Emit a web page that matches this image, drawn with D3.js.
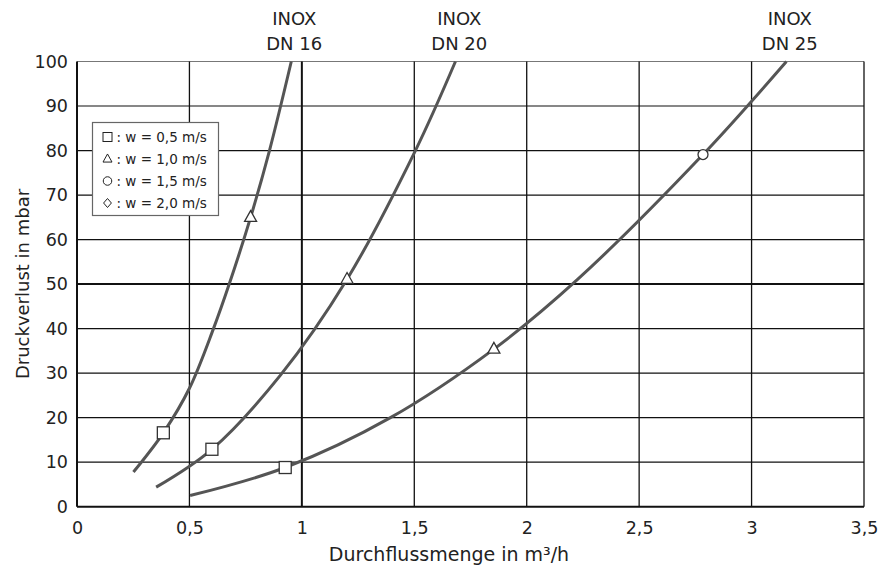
<!DOCTYPE html>
<html><head><meta charset="utf-8">
<script src="https://cdn.jsdelivr.net/npm/d3@7"></script>
<style>
body{margin:0;background:#fff;}
text{font-family:"DejaVu Sans",sans-serif;fill:#222;}
</style></head>
<body><svg id="c" width="890" height="572"></svg>
<script>
// ---- data ----
const xTicks = [0, 0.5, 1, 1.5, 2, 2.5, 3, 3.5];
const xTickLabels = ["0", "0,5", "1", "1,5", "2", "2,5", "3", "3,5"];
const yTicks = [0, 10, 20, 30, 40, 50, 60, 70, 80, 90, 100];
const seriesNames = ["INOX|DN 16", "INOX|DN 20", "INOX|DN 25"];
const labelX = [0.966, 1.70, 3.17];
// curve points [flow m³/h, pressure mbar]
const dn16 = [[0.251, 7.8], [0.384, 16.6], [0.5, 26.6], [0.607, 40], [0.677, 50], [0.772, 65], [0.856, 80], [0.953, 100]];
const dn20 = [[0.352, 4.4], [0.6, 12.9], [0.904, 29.5], [1.201, 51.1], [1.505, 80], [1.683, 100]];
const dn25 = [[0.503, 2.5], [0.926, 8.8], [1.394, 20], [1.854, 35.4], [2.225, 51], [2.784, 79.1], [3.155, 100]];
const curves = [dn16, dn20, dn25];
// markers: [flow, pressure, type]
const markers = [
  [0.384, 16.6, "square"], [0.772, 65, "triangle"],
  [0.600, 12.9, "square"], [1.201, 51.1, "triangle"],
  [0.926, 8.8, "square"], [1.854, 35.4, "triangle"], [2.784, 79.1, "circle"]
];
const legendItems = [["square", ": w = 0,5 m/s"], ["triangle", ": w = 1,0 m/s"], ["circle", ": w = 1,5 m/s"], ["diamond", ": w = 2,0 m/s"]];

// ---- drawing ----
const svg = d3.select("#c");
const L = 77, R = 864, T = 61.5, B = 506.7;
const x = d3.scaleLinear().domain([0, 3.5]).range([L, R]);
const y = d3.scaleLinear().domain([0, 100]).range([B, T]);

// grid
const g = svg.append("g");
g.selectAll("line.h").data(yTicks.slice(1)).join("line")
  .attr("x1", L).attr("x2", R).attr("y1", d => y(d)).attr("y2", d => y(d))
  .attr("stroke", d => d === 100 ? "#777" : "#111")
  .attr("stroke-width", d => d === 50 ? 2 : 1.2);
g.selectAll("line.v").data(xTicks.slice(1)).join("line")
  .attr("x1", d => x(d)).attr("x2", d => x(d)).attr("y1", T).attr("y2", B)
  .attr("stroke", "#111")
  .attr("stroke-width", d => d === 1 ? 2 : 1.3);
svg.append("line").attr("x1", L).attr("x2", L).attr("y1", T).attr("y2", B).attr("stroke", "#111").attr("stroke-width", 2);
svg.append("line").attr("x1", L).attr("x2", R).attr("y1", B).attr("y2", B).attr("stroke", "#111").attr("stroke-width", 2);

// tick labels
const xAxis = d3.axisBottom(x).tickValues(xTicks).tickFormat((d, i) => xTickLabels[i]).tickSize(0).tickPadding(15);
const xa = svg.append("g").attr("transform", `translate(0,${B})`).call(xAxis);
xa.select(".domain").remove();
xa.selectAll("text").style("font-size", "17.5px").style("font-family", "'DejaVu Sans',sans-serif").attr("fill", "#222");
const yAxis = d3.axisLeft(y).tickValues(yTicks).tickSize(0).tickPadding(9);
const ya = svg.append("g").attr("transform", `translate(${L},0)`).call(yAxis);
ya.select(".domain").remove();
ya.selectAll("text").style("font-size", "17.5px").style("font-family", "'DejaVu Sans',sans-serif").attr("fill", "#222");

// axis titles
svg.append("text").attr("x", 449).attr("y", 561).attr("text-anchor", "middle").style("font-size", "19px").text("Durchflussmenge in m³/h");
svg.append("text").attr("transform", `translate(23,284) rotate(-90)`).attr("text-anchor", "middle").attr("dy", "0.35em").style("font-size", "18px").text("Druckverlust in mbar");

// curves
const line = d3.line().x(d => x(d[0])).y(d => y(d[1])).curve(d3.curveCatmullRom.alpha(0.5));
svg.selectAll("path.curve").data(curves).join("path")
  .attr("d", line).attr("fill", "none").attr("stroke", "#555").attr("stroke-width", 3);

// series labels
seriesNames.forEach((s, i) => {
  const parts = s.split("|");
  const t = svg.append("text").attr("text-anchor", "middle").style("font-size", "18px");
  t.append("tspan").attr("x", x(labelX[i])).attr("y", 25).text(parts[0]);
  t.append("tspan").attr("x", x(labelX[i])).attr("y", 50).text(parts[1]);
});

// marker drawing
function drawSym(sel, type, cx, cy, s) {
  if (type === "square") {
    sel.append("rect").attr("x", cx - s / 2).attr("y", cy - s / 2).attr("width", s).attr("height", s);
  } else if (type === "triangle") {
    const h = s * 0.9;
    sel.append("path").attr("d", `M${cx},${cy - h * 0.62}L${cx + s / 2},${cy + h * 0.38}L${cx - s / 2},${cy + h * 0.38}Z`);
  } else if (type === "circle") {
    sel.append("circle").attr("cx", cx).attr("cy", cy).attr("r", s / 2);
  } else {
    sel.append("path").attr("d", `M${cx},${cy - s / 2}L${cx + s / 2.3},${cy}L${cx},${cy + s / 2}L${cx - s / 2.3},${cy}Z`);
  }
}
const mg = svg.append("g").attr("fill", "#fff").attr("stroke", "#333").attr("stroke-width", 1.3);
markers.forEach(m => drawSym(mg, m[2], x(m[0]), y(m[1]), m[2] === "circle" ? 10 : 12));

// legend
const lg = svg.append("g");
lg.append("rect").attr("x", 92.5).attr("y", 122.5).attr("width", 126).attr("height", 93)
  .attr("fill", "#fff").attr("stroke", "#666").attr("stroke-width", 1.2);
legendItems.forEach((it, i) => {
  const cy = 137 + i * 22;
  const sg = lg.append("g").attr("fill", "#fff").attr("stroke", "#222").attr("stroke-width", 1);
  drawSym(sg, it[0], 107.5, cy, it[0] === "circle" ? 8.5 : 9);
  lg.append("text").attr("x", 116.5).attr("y", cy).attr("dy", "0.35em").style("font-size", "13.5px").text(it[1]);
});
</script></body></html>
